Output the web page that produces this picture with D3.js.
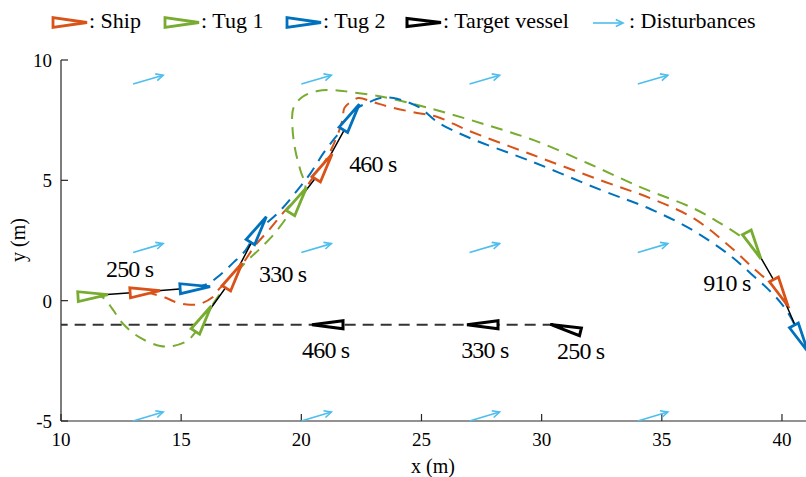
<!DOCTYPE html>
<html>
<head>
<meta charset="utf-8">
<script src="https://cdn.jsdelivr.net/npm/d3@7"></script>
<style>
body { margin: 0; background: #fff; }
</style>
</head>
<body>
<div id="chart"></div>
<script>
// snapshot times and vessel poses (m, deg)
var snapTimes = [250, 330, 460, 910];
var shipX = [13.5, 17.21, 20.95, 39.96];
var shipY = [0.37, 1.04, 5.57, 0.33];
var tug1X = [11.33, 15.92, 19.88, 38.83];
var tug1Y = [0.21, -0.75, 4.17, 2.29];
var tug2X = [15.58, 18.21, 22.08, 40.79];
var tug2Y = [0.54, 2.96, 7.63, -1.58];
var snapHeading = [4, 58, 58, -62];

var targetTimes = [250, 330, 460];
var targetX = [30.99, 27.54, 21.09];
var targetY = [-1.14, -1.0, -1.0];
var targetHeading = [166, 180, 180];
var targetTrackX = [30.5, 10];
var targetTrackY = [-1, -1];

// trajectories
var shipTrackX = [13.5, 14.33, 14.83, 15.38, 15.79, 16.29, 16.63, 17.21, 18.08, 18.71, 19.33, 19.96, 20.46, 20.96, 21.42, 21.71, 21.79, 22.04, 22.38, 23.0, 23.71, 24.67, 25.67, 26.92, 29.67, 32.46, 34.54, 36.33, 37.88, 38.83, 39.54, 39.96, 40.46];
var shipTrackY = [0.37, 0.13, -0.08, -0.17, -0.13, 0.13, 0.54, 1.04, 2.29, 3.0, 3.75, 4.38, 5.08, 5.75, 6.67, 7.5, 8.0, 8.25, 8.42, 8.25, 8.04, 7.83, 7.63, 7.08, 6.04, 5.0, 4.25, 3.42, 2.21, 1.33, 0.71, 0.21, -0.54];
var tug1TrackX = [11.33, 11.75, 12.13, 12.58, 13.29, 14.13, 14.67, 15.25, 15.58, 15.96, 16.42, 17.04, 17.67, 18.29, 18.92, 19.54, 19.88, 20.17, 19.96, 19.75, 19.63, 19.67, 20.04, 20.67, 21.33, 22.04, 23.42, 24.83, 26.08, 27.75, 29.67, 31.92, 34.13, 36.33, 37.58, 38.42, 38.83];
var tug1TrackY = [0.21, 0.13, -0.33, -0.96, -1.54, -1.88, -1.88, -1.67, -1.33, -0.75, 0.0, 0.83, 1.58, 2.17, 2.83, 3.67, 4.17, 4.71, 5.42, 6.25, 7.21, 8.0, 8.46, 8.71, 8.75, 8.67, 8.46, 8.13, 7.79, 7.29, 6.67, 5.71, 4.71, 3.83, 3.13, 2.58, 2.29];
var tug2TrackX = [15.58, 16.13, 16.63, 17.17, 17.67, 18.21, 18.58, 19.13, 19.83, 20.38, 20.92, 21.42, 21.83, 22.08, 22.33, 22.75, 23.29, 23.83, 24.42, 24.96, 25.67, 26.92, 29.67, 32.46, 34.54, 36.33, 37.88, 38.71, 39.42, 39.96, 40.38, 40.79, 41.04];
var tug2TrackY = [0.54, 0.71, 1.08, 1.58, 2.08, 2.96, 3.25, 3.75, 4.58, 5.29, 6.13, 6.79, 7.29, 7.63, 8.0, 8.21, 8.42, 8.42, 8.25, 8.0, 7.42, 6.8, 5.75, 4.6, 3.8, 2.9, 1.85, 1.12, 0.48, -0.1, -0.72, -1.58, -2.0];

// disturbance field
var windX = [13, 20, 27, 34];
var windY = [-5, 2, 9];
var windU = 1.25;
var windV = 0.37;

var xTicks = [10, 15, 20, 25, 30, 35, 40];
var yTicks = [-5, 0, 5, 10];

var shipLabels = ["250 s", "330 s", "460 s", "910 s"];
var shipLabelX = [11.87, 18.24, 21.99, 36.72];
var shipLabelY = [1.0, 0.79, 5.36, 0.41];
var targetLabels = ["460 s", "330 s", "250 s"];
var targetLabelX = [20.03, 26.65, 30.64];
var targetLabelY = [-2.37, -2.37, -2.41];

var legendNames = [": Ship", ": Tug 1", ": Tug 2", ": Target vessel", ": Disturbances"];

var cShip = "#D95319", cTug1 = "#77AC30", cTug2 = "#0072BD", cWind = "#4DBEEE";
var serif = "'Liberation Serif', 'Times New Roman', Tinos, 'DejaVu Serif', serif";

var svg = d3.select("#chart").append("svg")
	.attr("width", 806)
	.attr("height", 477)
	.attr("font-family", serif);

var x = d3.scaleLinear().domain([10, 41]).range([61, 806]);
var y = d3.scaleLinear().domain([-5, 10]).range([421, 60]);

function zipXY(xs, ys){
	return xs.map(function(d, i){ return [d, ys[i]]; });
}

function vessel(px, py, deg, len, wid){
	var a = deg * Math.PI / 180;
	var ux = Math.cos(a), uy = -Math.sin(a);
	var nx = Math.sin(a), ny = Math.cos(a);
	var bx = px - ux * len / 2, by = py - uy * len / 2;
	return [
		[px + ux * len / 2, py + uy * len / 2],
		[bx + nx * wid / 2, by + ny * wid / 2],
		[bx - nx * wid / 2, by - ny * wid / 2]
	].map(function(p){ return p[0].toFixed(1) + "," + p[1].toFixed(1); }).join(" ");
}

function arrow(g, x1, y1, x2, y2){
	var a = Math.atan2(y2 - y1, x2 - x1);
	var h = 8, s = 0.45;
	g.append("line").attr("x1", x1).attr("y1", y1).attr("x2", x2).attr("y2", y2);
	g.append("polyline")
		.attr("fill", "none")
		.attr("points", [
			[x2 - h * Math.cos(a - s), y2 - h * Math.sin(a - s)],
			[x2, y2],
			[x2 - h * Math.cos(a + s), y2 - h * Math.sin(a + s)]
		].join(" "));
}

// axes
var axes = svg.append("g").attr("stroke", "#262626").attr("stroke-width", 1.2);
axes.append("line").attr("x1", x(10)).attr("x2", x(41)).attr("y1", y(-5)).attr("y2", y(-5));
axes.append("line").attr("x1", x(10)).attr("x2", x(10)).attr("y1", y(-5)).attr("y2", y(10));
xTicks.forEach(function(t){
	axes.append("line").attr("x1", x(t)).attr("x2", x(t)).attr("y1", y(-5)).attr("y2", y(-5) - 7);
});
yTicks.forEach(function(t){
	axes.append("line").attr("x1", x(10)).attr("x2", x(10) + 7).attr("y1", y(t)).attr("y2", y(t));
});

svg.selectAll(".xt")
	.data(xTicks)
	.enter()
	.append("text")
	.attr("class", "xt")
	.attr("x", function(d){ return x(d); })
	.attr("y", 446)
	.attr("text-anchor", "middle")
	.attr("font-size", 19)
	.text(function(d){ return d; });

svg.selectAll(".yt")
	.data(yTicks)
	.enter()
	.append("text")
	.attr("class", "yt")
	.attr("x", 52)
	.attr("y", function(d){ return y(d) + 7; })
	.attr("text-anchor", "end")
	.attr("font-size", 19)
	.text(function(d){ return d; });

svg.append("text")
	.attr("x", 433)
	.attr("y", 473)
	.attr("text-anchor", "middle")
	.attr("font-size", 20)
	.text("x (m)");

svg.append("text")
	.attr("transform", "translate(25,240) rotate(-90)")
	.attr("text-anchor", "middle")
	.attr("font-size", 20)
	.text("y (m)");

// disturbances
var wind = svg.append("g").attr("stroke", cWind).attr("stroke-width", 1.6);
windY.forEach(function(wy){
	windX.forEach(function(wx){
		arrow(wind, x(wx), y(wy), x(wx + windU), y(wy + windV));
	});
});

// tracks
var line = d3.line()
	.x(function(d){ return x(d[0]); })
	.y(function(d){ return y(d[1]); })
	.curve(d3.curveCatmullRom.alpha(0.5));

svg.append("path")
	.attr("d", line(zipXY(targetTrackX, targetTrackY)))
	.attr("fill", "none")
	.attr("stroke", "#333")
	.attr("stroke-width", 2)
	.attr("stroke-dasharray", "11,7");

var tracks = [
	[tug1TrackX, tug1TrackY, cTug1],
	[shipTrackX, shipTrackY, cShip],
	[tug2TrackX, tug2TrackY, cTug2]
];
tracks.forEach(function(t){
	svg.append("path")
		.attr("d", line(zipXY(t[0], t[1])))
		.attr("fill", "none")
		.attr("stroke", t[2])
		.attr("stroke-width", 2)
		.attr("stroke-dasharray", "12,8");
});

// formation snapshots
for(var i = 0; i < snapTimes.length; i++){
	svg.append("polyline")
		.attr("points", [[x(tug1X[i]), y(tug1Y[i])], [x(shipX[i]), y(shipY[i])], [x(tug2X[i]), y(tug2Y[i])]].join(" "))
		.attr("fill", "none")
		.attr("stroke", "#000")
		.attr("stroke-width", 1.5);

	var poses = [[tug1X[i], tug1Y[i], cTug1], [shipX[i], shipY[i], cShip], [tug2X[i], tug2Y[i], cTug2]];
	poses.forEach(function(p){
		svg.append("polygon")
			.attr("points", vessel(x(p[0]), y(p[1]), snapHeading[i], 30, 10))
			.attr("fill", "#fff")
			.attr("stroke", p[2])
			.attr("stroke-width", 2.8)
			.attr("stroke-linejoin", "miter");
	});
}

for(var j = 0; j < targetTimes.length; j++){
	svg.append("polygon")
		.attr("points", vessel(x(targetX[j]), y(targetY[j]), targetHeading[j], 31, 8))
		.attr("fill", "#fff")
		.attr("stroke", "#000")
		.attr("stroke-width", 3);
}

// time labels
svg.selectAll(".sl")
	.data(shipLabels)
	.enter()
	.append("text")
	.attr("class", "sl")
	.attr("x", function(d, i){ return x(shipLabelX[i]); })
	.attr("y", function(d, i){ return y(shipLabelY[i]); })
	.attr("font-size", 24)
	.attr("letter-spacing", -0.8)
	.text(function(d){ return d; });

svg.selectAll(".tl")
	.data(targetLabels)
	.enter()
	.append("text")
	.attr("class", "tl")
	.attr("x", function(d, i){ return x(targetLabelX[i]); })
	.attr("y", function(d, i){ return y(targetLabelY[i]); })
	.attr("font-size", 24)
	.attr("letter-spacing", -0.8)
	.text(function(d){ return d; });

// legend
var legX = [53, 165, 287, 407, 593];
var legColors = [cShip, cTug1, cTug2, "#000"];
var leg = svg.append("g");
for(var k = 0; k < legendNames.length; k++){
	if(k < 4){
		leg.append("polygon")
			.attr("points", vessel(legX[k] + 17, 22.5, 0, 34, k === 3 ? 8 : 10))
			.attr("fill", "#fff")
			.attr("stroke", legColors[k])
			.attr("stroke-width", k === 3 ? 3 : 2.8);
	}
	else{
		var lg = leg.append("g").attr("stroke", cWind).attr("stroke-width", 1.6);
		arrow(lg, legX[k], 23, legX[k] + 30, 23);
	}
	leg.append("text")
		.attr("x", legX[k] + 36)
		.attr("y", 28)
		.attr("font-size", 22)
		.text(legendNames[k]);
}
</script>
</body>
</html>
